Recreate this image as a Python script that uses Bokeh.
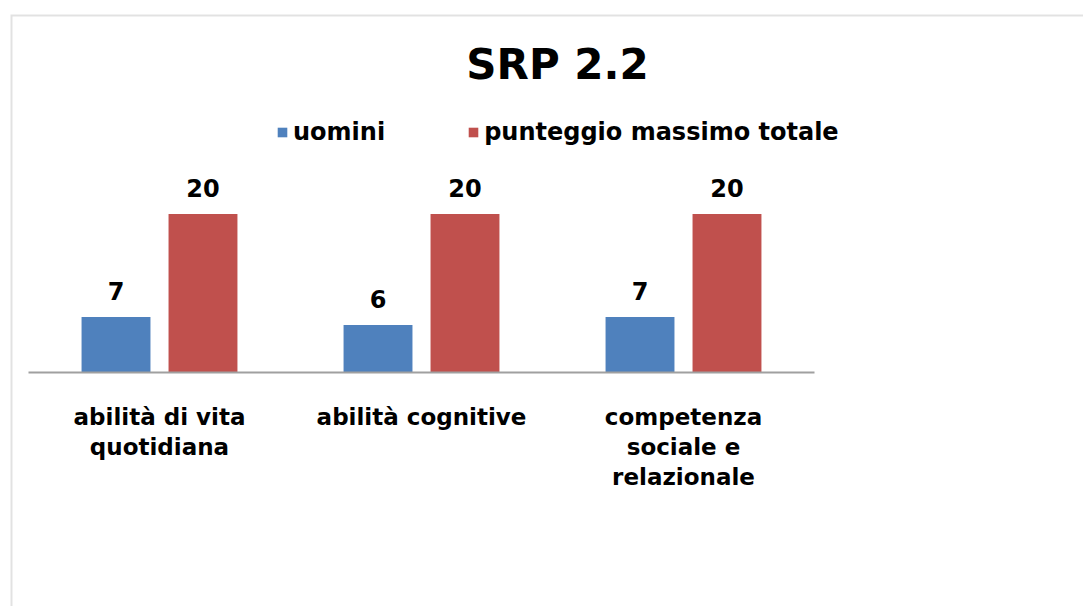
from bokeh.plotting import figure
from bokeh.models import (ColumnDataSource, Range1d, Legend, LegendItem,
                          BoxAnnotation)
from bokeh.transform import dodge
from bokeh.core.properties import value
from bokeh.embed import file_html
from bokeh.resources import INLINE

# ---- data ----
title_text = "SRP 2.2"
categories = ["abilità di vita quotidiana", "abilità cognitive",
              "competenza sociale e relazionale"]
category_display = ["abilità di vita\nquotidiana", "abilità cognitive",
                    "competenza\nsociale e\nrelazionale"]
series_names = ["uomini", "punteggio massimo totale"]
uomini = [7, 6, 7]
punteggio_massimo = [20, 20, 20]

# ---- style / layout ----
BLUE = "#4F81BD"
RED = "#C0504D"
EDGE = "#a0a0a0"
FONT = "DejaVu Sans"
W, H = 1083, 606
BL, BT = 10, 14                # chart border offset inside canvas
PX_CAT = 262.0                 # pixels per category
PX_UNIT = 7.92                 # pixels per value unit
X0_PX = 28.0                   # canvas x of first category start
Y0_PX = 372.0                  # canvas y of value 0
TITLE_X, TITLE_Y = 557.0, 64.0

fw, fh = W - BL, H - BT
x_start = -(X0_PX - BL) / PX_CAT
x_end = x_start + fw / PX_CAT
y_end = (Y0_PX - BT) / PX_UNIT
y_start = y_end - fh / PX_UNIT

n = len(categories)
src = ColumnDataSource(dict(
    x=[i + 0.5 for i in range(n)],
    cat=category_display,
    uomini=uomini,
    massimo=punteggio_massimo,
    u_lbl=[str(v) for v in uomini],
    m_lbl=[str(v) for v in punteggio_massimo],
    zero=[0] * n,
))

p = figure(width=W, height=H, title=None,
           x_range=Range1d(x_start, x_end), y_range=Range1d(y_start, y_end),
           x_axis_type=None, y_axis_type=None,
           output_backend="svg", toolbar_location=None,
           min_border_left=BL, min_border_top=BT,
           min_border_right=0, min_border_bottom=0,
           outline_line_color=None, background_fill_color="white",
           border_fill_color="white")
p.grid.visible = False

off = 0.166
bw = 0.263
r1 = p.vbar(x=dodge("x", -off), top="uomini", width=bw,
            source=src, fill_color=BLUE, line_color=None)
r2 = p.vbar(x=dodge("x", off), top="massimo", width=bw,
            source=src, fill_color=RED, line_color=None)

# category axis line
p.segment(x0=0, x1=n, y0=0, y1=0, line_color="#a0a0a0", line_width=2)

# data labels
for col, lbl, dx in (("uomini", "u_lbl", -off), ("massimo", "m_lbl", off)):
    p.text(x=dodge("x", dx), y=col, text=lbl, source=src,
           text_align="center", text_baseline="alphabetic", y_offset=-26,
           text_font=value(FONT), text_font_style="bold",
           text_font_size="24px", text_color="black")

# category labels
p.text(x="x", y="zero", text="cat", source=src,
       text_align="center", text_baseline="top", y_offset=31,
       text_font=value(FONT), text_font_style="bold",
       text_font_size="23px", text_color="black", text_line_height=1.16)

# title
p.text(x=[(TITLE_X - X0_PX) / PX_CAT], y=[(Y0_PX - TITLE_Y) / PX_UNIT],
       text=[title_text], text_align="center", text_baseline="middle",
       text_font=value(FONT), text_font_style="bold",
       text_font_size="42px", text_color="black")

legend = Legend(items=[LegendItem(label=series_names[0], renderers=[r1]),
                       LegendItem(label=series_names[1], renderers=[r2])],
                orientation="horizontal", location=(266, 460),
                padding=6, margin=0, spacing=82,
                glyph_width=12, glyph_height=12, label_standoff=5,
                label_text_font=FONT, label_text_font_style="bold",
                label_text_font_size="24px", label_text_color="black",
                border_line_color=None, background_fill_alpha=0)
p.add_layout(legend)

border = BoxAnnotation(left=x_start, right=x_end * 3, top=y_end,
                       bottom=y_start * 3,
                       fill_color=None, fill_alpha=0,
                       line_color=EDGE, line_width=4)
p.add_layout(border)

open("out.html", "w").write(file_html(p, INLINE))
